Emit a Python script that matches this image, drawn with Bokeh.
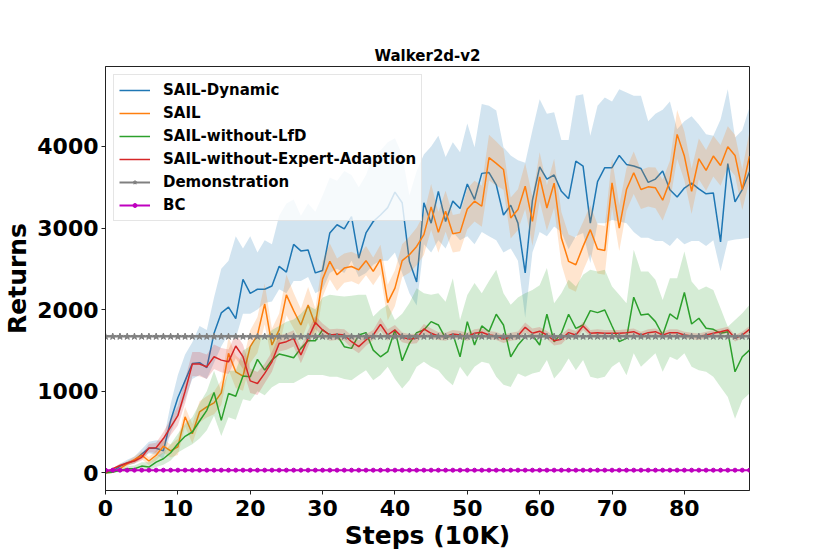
from bokeh.plotting import figure
from bokeh.models import Range1d, FixedTicker
from bokeh.embed import file_html
from bokeh.resources import INLINE

steps = list(range(90))

sail_dynamic = [0, 20, 80, 120, 150, 230, 300, 300, 270, 640,
                920, 1130, 1340, 1350, 1290, 1710, 1960, 2030, 1890, 2370,
                2200, 2250, 2250, 2290, 2530, 2460, 2800, 2720, 2730, 2450,
                2480, 2940, 3040, 2990, 3140, 2630, 2940, 3080, 3160, 3250,
                3440, 3310, 2590, 2340, 3310, 3060, 3450, 3080, 3330, 3240,
                3540, 3350, 3670, 3680, 3530, 3160, 3280, 3060, 2450, 3340,
                3750, 3600, 3650, 3450, 3360, 3820, 3760, 3060, 3570, 3740,
                3740, 3890, 3780, 3760, 3730, 3560, 3600, 3700, 3470, 3380,
                3490, 3550, 3480, 3420, 3430, 2830, 3790, 3320, 3470, 3690]
sail_dynamic_lo = [0, 10, 60, 90, 110, 180, 240, 220, 170, 490,
                   700, 900, 1150, 1200, 1150, 1350, 1550, 1700, 1650, 1950,
                   1950, 2000, 2080, 2100, 2250, 2200, 2350, 2350, 2400, 2200,
                   2250, 2450, 2500, 2450, 2600, 2400, 2450, 2550, 2600, 2600,
                   2700, 2450, 2200, 2050, 2800, 2700, 2850, 2750, 2950, 2850,
                   2900, 2800, 2950, 2900, 2850, 2700, 2750, 2600, 1900, 2700,
                   2950, 2900, 3020, 2950, 2740, 2900, 2940, 2570, 3060, 3060,
                   3100, 3080, 3060, 2950, 2880, 2880, 2840, 2840, 2780, 2880,
                   2800, 2840, 2840, 2780, 2850, 2470, 2840, 2860, 2870, 2880]
sail_dynamic_hi = [0, 40, 110, 160, 200, 290, 380, 400, 390, 840,
                   1200, 1450, 1600, 1800, 1750, 2150, 2500, 2600, 2900, 2750,
                   2900, 2700, 2850, 2800, 3150, 3300, 3350, 3150, 3300, 3200,
                   3400, 3620, 3580, 3700, 3650, 3500, 3650, 3900, 3950, 4050,
                   4100, 3900, 3400, 3700, 3900, 4000, 4130, 3870, 4050, 3930,
                   4280, 3990, 4520, 4500, 4440, 3990, 3890, 3830, 3800, 4200,
                   4580, 4400, 4420, 4080, 4080, 4620, 4640, 4130, 4500, 4600,
                   4550, 4700, 4660, 4620, 4620, 4310, 4400, 4450, 4550, 4210,
                   4310, 4370, 4270, 4150, 4130, 4330, 4700, 4110, 4200, 4480]

sail = [0, 8, 50, 110, 160, 215, 145, 215, 326, 268,
        318, 686, 479, 746, 808, 857, 980, 1464, 1238, 1185,
        1546, 1689, 2070, 1566, 1751, 2181, 1988, 1812, 2058, 1812,
        2374, 2591, 2427, 2509, 2529, 2488, 2600, 2468, 2615, 2086,
        2263, 2600, 2673, 2775, 2919, 3259, 2947, 3206, 2931, 2947,
        3234, 3329, 3267, 3862, 3792, 3718, 3123, 3226, 3513, 3082,
        3628, 3246, 3550, 2878, 2591, 2550, 2775, 2980, 2742, 2726,
        3554, 3000, 3472, 3677, 3472, 3505, 3493, 3341, 3575, 4148,
        3882, 3451, 3849, 3706, 3882, 3767, 3997, 3890, 3472, 3882]
sail_spread = [0, 10, 20, 30, 40, 50, 50, 60, 80, 80,
               100, 120, 120, 130, 130, 140, 150, 200, 200, 180,
               200, 220, 250, 200, 200, 250, 220, 200, 220, 200,
               220, 220, 200, 180, 180, 180, 180, 170, 180, 220,
               220, 200, 220, 230, 250, 280, 250, 250, 230, 230,
               250, 250, 250, 280, 270, 250, 250, 250, 280, 300,
               300, 280, 300, 320, 330, 330, 300, 300, 300, 300,
               300, 280, 260, 260, 240, 240, 250, 250, 250, 300,
               300, 280, 250, 250, 250, 250, 250, 250, 250, 300]

sail_no_lfd = [0, 8, 29, 49, 49, 82, 70, 131, 172, 246,
               357, 447, 500, 635, 766, 984, 643, 971, 939, 1185,
               1176, 1390, 1259, 1382, 1456, 1435, 1411, 1525, 1619, 1619,
               1751, 1689, 1689, 1546, 1525, 1689, 1718, 1504, 1422, 1484,
               1751, 1373, 1586, 1718, 1751, 1853, 1812, 1648, 1701, 1422,
               1853, 1566, 1800, 1730, 1943, 1812, 1422, 1566, 1668, 1689,
               1566, 1943, 1607, 1710, 1943, 1771, 1812, 1988, 1963, 1996,
               1800, 1607, 1648, 2152, 1935, 1947, 1853, 1689, 1947, 1882,
               2210, 1824, 1894, 1771, 1759, 1710, 1730, 1238, 1423, 1504]
sail_no_lfd_lo = [0, 0, 10, 20, 20, 40, 30, 70, 100, 150,
                  250, 300, 350, 420, 520, 700, 450, 680, 650, 900,
                  880, 1000, 950, 1050, 1100, 1100, 1100, 1150, 1200, 1200,
                  1200, 1176, 1176, 1150, 1135, 1200, 1258, 1135, 1200, 1299,
                  1150, 1033, 1135, 1300, 1360, 1299, 1258, 1150, 1074, 1299,
                  1176, 1300, 1360, 1340, 1176, 1080, 1053, 1217, 1176, 1217,
                  1238, 1382, 1156, 1258, 1402, 1258, 1382, 1176, 1156, 1176,
                  1299, 1360, 1197, 1464, 1299, 1382, 1464, 1238, 1423, 1382,
                  1464, 1299, 1258, 1238, 1176, 1053, 930, 663, 889, 971]
sail_no_lfd_hi = [0, 20, 50, 80, 90, 130, 130, 200, 250, 350,
                  480, 600, 680, 850, 1000, 1250, 1000, 1250, 1250, 1500,
                  1550, 1700, 1650, 1750, 1800, 1850, 1880, 1950, 2050, 2000,
                  2150, 2181, 2170, 2160, 2170, 2181, 2181, 1915, 2000, 2060,
                  1873, 1950, 2080, 2263, 2200, 2181, 2200, 2098, 2385, 1873,
                  2180, 2325, 2200, 2350, 2488, 2200, 2060, 2150, 2200, 2242,
                  2300, 2509, 2078, 2200, 2365, 2283, 2427, 2488, 2468, 2488,
                  2283, 2181, 2078, 2734, 2468, 2468, 2365, 2119, 2385, 2385,
                  2713, 2345, 2240, 2283, 2240, 2017, 1791, 1873, 1955, 2058]

sail_no_ea = [0, 50, 90, 119, 144, 190, 303, 307, 420, 560,
              700, 1000, 1332, 1332, 1299, 1423, 1381, 1360, 1554, 1423,
              1127, 1094, 1218, 1360, 1586, 1607, 1648, 1443, 1648, 1841,
              1751, 1689, 1697, 1689, 1607, 1546, 1628, 1689, 1820, 1689,
              1751, 1660, 1640, 1648, 1763, 1710, 1677, 1668, 1701, 1689,
              1668, 1710, 1722, 1689, 1677, 1640, 1668, 1681, 1783, 1710,
              1736, 1689, 1619, 1636, 1718, 1689, 1800, 1710, 1718, 1710,
              1710, 1710, 1718, 1730, 1689, 1718, 1730, 1689, 1718, 1718,
              1689, 1677, 1668, 1689, 1710, 1730, 1751, 1648, 1689, 1759]
sail_no_ea_spread = [0, 10, 20, 20, 30, 40, 50, 60, 80, 100,
                     120, 150, 150, 150, 150, 150, 150, 150, 150, 150,
                     150, 140, 120, 120, 100, 100, 100, 100, 100, 80,
                     80, 70, 70, 70, 80, 80, 70, 60, 80, 70,
                     60, 60, 60, 60, 60, 60, 50, 50, 50, 50,
                     50, 50, 50, 50, 50, 50, 50, 50, 60, 60,
                     50, 50, 60, 60, 50, 50, 50, 40, 40, 40,
                     40, 40, 40, 40, 40, 40, 40, 40, 40, 40,
                     40, 40, 40, 40, 40, 40, 40, 40, 40, 40]

demonstration_return = 1670
bc_return = 32

x_ticks = [0, 10, 20, 30, 40, 50, 60, 70, 80]
y_ticks = [0, 1000, 2000, 3000, 4000]

FONT = "DejaVu Sans"

p = figure(frame_width=644, frame_height=424,
           min_border_left=95, min_border_top=66, min_border_right=75, min_border_bottom=50,
           x_range=Range1d(0, 89), y_range=Range1d(-217, 4980),
           output_backend="svg", toolbar_location=None, title="Walker2d-v2")

series = [
    ("SAIL-Dynamic", "#1f77b4", sail_dynamic, sail_dynamic_lo, sail_dynamic_hi),
    ("SAIL", "#ff7f0e", sail,
     [m - s for m, s in zip(sail, sail_spread)], [m + s for m, s in zip(sail, sail_spread)]),
    ("SAIL-without-LfD", "#2ca02c", sail_no_lfd, sail_no_lfd_lo, sail_no_lfd_hi),
    ("SAIL-without-Expert-Adaption", "#d62728", sail_no_ea,
     [m - s for m, s in zip(sail_no_ea, sail_no_ea_spread)],
     [m + s for m, s in zip(sail_no_ea, sail_no_ea_spread)]),
]

for name, color, mean, lo, hi in series:
    p.line(steps, mean, line_color=color, line_width=1.5, legend_label=name)
    p.varea(x=steps, y1=lo, y2=hi, fill_color=color, fill_alpha=0.2)

demo = [demonstration_return] * len(steps)
bc = [bc_return] * len(steps)
p.line(steps, demo, line_color="#808080", line_width=2, legend_label="Demonstration")
p.scatter(steps, demo, marker="star", size=7, fill_color="#808080", line_color="#808080",
          legend_label="Demonstration")
p.line(steps, bc, line_color="#bf00bf", line_width=2, legend_label="BC")
p.scatter(steps, bc, marker="circle", size=4, fill_color="#bf00bf", line_color="#bf00bf",
          legend_label="BC")

p.xgrid.visible = False
p.ygrid.visible = False
p.outline_line_color = "#222222"
p.outline_line_width = 1
p.background_fill_color = "white"
p.border_fill_color = "white"

p.xaxis.ticker = FixedTicker(ticks=x_ticks)
p.yaxis.ticker = FixedTicker(ticks=y_ticks)
for ax in (p.xaxis, p.yaxis):
    ax.axis_line_color = "#222222"
    ax.major_tick_line_color = "#222222"
    ax.major_tick_in = 0
    ax.major_tick_out = 4
    ax.minor_tick_line_color = None
    ax.major_label_text_font = FONT
    ax.major_label_text_font_style = "bold"
    ax.major_label_text_font_size = "22px"
    ax.major_label_text_color = "black"
    ax.axis_label_text_font = FONT
    ax.axis_label_text_font_style = "bold"
    ax.axis_label_text_font_size = "25px"
    ax.axis_label_text_color = "black"
    ax.major_label_standoff = 3
    ax.axis_label_standoff = 2
p.xaxis.major_label_standoff = 5
p.xaxis.axis_label = "Steps (10K)"
p.yaxis.axis_label = "Returns"

p.title.text_font = FONT
p.title.text_font_style = "bold"
p.title.text_font_size = "15px"
p.title.align = "center"
p.title.text_color = "black"
p.title.standoff = 3

lg = p.legend[0]
lg.location = "top_left"
lg.margin = 8
lg.padding = 5
lg.spacing = 3
lg.glyph_width = 31
lg.glyph_height = 10
lg.label_height = 20
lg.label_standoff = 13
lg.label_text_font = FONT
lg.label_text_font_style = "bold"
lg.label_text_font_size = "15px"
lg.label_text_color = "black"
lg.background_fill_color = "white"
lg.background_fill_alpha = 0.8
lg.border_line_color = "#cccccc"
lg.border_line_width = 1

open("out.html", "w").write(file_html(p, INLINE))
